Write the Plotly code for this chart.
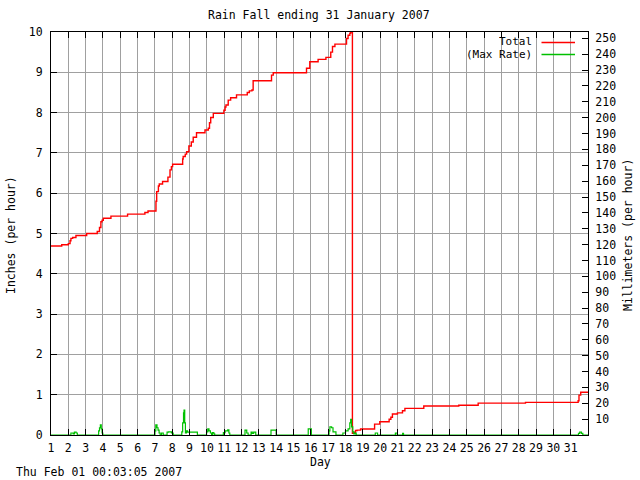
import plotly.graph_objects as go

# ---- data ----
total_day = [1.0, 1.62, 2.0, 2.1, 2.15, 2.25, 2.44, 3.06, 3.67, 3.8, 3.88, 3.95, 4.02, 4.46,
             5.42, 6.42, 6.6, 7.06, 7.1, 7.2, 7.25, 7.44, 7.75, 7.87, 7.95, 8.02, 8.6, 8.63,
             8.75, 8.83, 8.96, 9.1, 9.21, 9.4, 9.89, 10.08, 10.15, 10.22, 10.37, 10.98, 11.05,
             11.1, 11.23, 11.37, 11.71, 12.33, 12.45, 12.6, 12.67, 13.73, 13.83, 15.75, 15.94,
             16.42, 16.87, 17.15, 17.25, 17.39, 18.06, 18.15, 18.25, 18.3, 18.4, 18.46, 18.58,
             18.67, 18.87, 19.68, 19.98, 20.52, 20.62, 20.71, 21.0, 21.29, 21.43, 22.52, 24.54,
             25.66, 28.39, 31.43, 31.48, 31.58, 32.0]
total_in = [4.69, 4.72, 4.75, 4.82, 4.88, 4.9, 4.95, 5.0, 5.05, 5.15, 5.29, 5.33, 5.38, 5.43,
            5.48, 5.52, 5.56, 5.8, 6.04, 6.18, 6.23, 6.29, 6.4, 6.58, 6.66, 6.72, 6.85, 6.91,
            6.97, 7.03, 7.17, 7.27, 7.39, 7.5, 7.57, 7.61, 7.75, 7.88, 7.98, 8.06, 8.14,
            8.19, 8.31, 8.37, 8.44, 8.5, 8.54, 8.56, 8.79, 8.93, 8.99, 9.1, 9.26,
            9.32, 9.37, 9.5, 9.64, 9.7, 9.84, 9.92, 9.97, 10.0, 0.04, 0.07, 0.11,
            0.12, 0.15, 0.27, 0.33, 0.39, 0.44, 0.52, 0.55, 0.6, 0.66, 0.72, 0.74,
            0.79, 0.81, 0.85, 0.99, 1.06, 1.06]

rate_day = [1.0, 2.15, 2.28, 2.35, 2.45, 2.52,
            3.75, 3.8, 3.85, 3.9, 3.95, 3.99,
            7.0, 7.05, 7.12, 7.18, 7.24, 7.3, 7.38, 7.48, 7.7, 7.78, 7.95, 8.05,
            8.55, 8.6, 8.65, 8.68, 8.72, 8.76, 8.82, 8.88, 9.45,
            9.98, 10.05, 10.12, 10.2, 10.27, 10.32, 10.4, 10.45,
            10.95, 11.05, 11.2, 11.27, 11.32,
            12.2, 12.3, 12.38, 12.55, 12.62, 12.7, 12.82,
            13.7, 14.0, 15.85, 16.03,
            17.05, 17.1, 17.2, 17.28, 17.45,
            17.85, 18.0, 18.15, 18.25, 18.3, 18.35, 18.42, 18.48, 18.55, 18.62,
            19.72, 19.85, 20.88, 20.98, 21.3, 21.35,
            31.45, 31.52, 31.62, 31.7, 32.0]
rate_in = [0.0, 0.05, 0.03, 0.07, 0.05, 0.0,
           0.1, 0.18, 0.25, 0.15, 0.05, 0.0,
           0.1, 0.25, 0.18, 0.12, 0.05, 0.0, 0.05, 0.0, 0.07, 0.08, 0.05, 0.0,
           0.08, 0.3, 0.55, 0.62, 0.3, 0.05, 0.1, 0.07, 0.0,
           0.08, 0.15, 0.1, 0.05, 0.0, 0.06, 0.03, 0.0,
           0.06, 0.1, 0.13, 0.05, 0.0,
           0.12, 0.05, 0.0, 0.07, 0.04, 0.07, 0.0,
           0.12, 0.0, 0.15, 0.0,
           0.1, 0.2, 0.18, 0.08, 0.0,
           0.05, 0.1, 0.15, 0.3, 0.39, 0.2, 0.08, 0.03, 0.05, 0.0,
           0.05, 0.0, 0.05, 0.0, 0.04, 0.0,
           0.04, 0.07, 0.04, 0.0, 0.0]

day_ticks = list(range(1, 32))
inch_ticks = list(range(0, 11))
mm_ticks = list(range(10, 251, 10))

title_text = "Rain Fall ending 31 January 2007"
stamp_text = "Thu Feb 01 00:03:05 2007"
legend_labels = ["Total", "(Max Rate)"]

FONT = "DejaVu Sans Mono"
FS = 11.5
RED = "#ff0000"
GREEN = "#00c000"
GRID = "#a0a0a0"

# plot area in pixels (for placing decorations)
PL, PR, PT, PB = 51, 588, 32, 435


def px(xp):
    return (xp - PL) / (PR - PL)


def py(yp):
    return (PB - yp) / (PB - PT)


fig = go.Figure()
fig.add_trace(go.Scatter(x=total_day, y=total_in, mode="lines", line=dict(color=RED, width=1.4, shape="hv"),
                         name=legend_labels[0], showlegend=False, hoverinfo="skip"))
fig.add_trace(go.Scatter(x=rate_day, y=rate_in, mode="lines", line=dict(color=GREEN, width=1.2, shape="hv"),
                         name=legend_labels[1], showlegend=False, hoverinfo="skip"))
# invisible trace so the millimetre axis is attached to data
fig.add_trace(go.Scatter(x=total_day, y=[v * 25.4 for v in total_in], yaxis="y2", mode="lines",
                         line=dict(width=0), opacity=0, showlegend=False, hoverinfo="skip"))

axis_common = dict(showline=True, linecolor="black", linewidth=1, ticks="inside", ticklen=6,
                   tickcolor="black", tickfont=dict(family=FONT, size=FS, color="black"),
                   zeroline=False)

fig.update_layout(
    width=640, height=480,
    margin=dict(l=PL, r=640 - PR, t=PT, b=480 - PB, pad=0),
    paper_bgcolor="white", plot_bgcolor="white",
    font=dict(family=FONT, size=FS, color="black"),
    xaxis=dict(range=[1, 32], tickvals=day_ticks, ticktext=[str(d) for d in day_ticks],
               showgrid=True, gridcolor=GRID, gridwidth=1, mirror="ticks",
               ticklabelstandoff=2, **axis_common),
    yaxis=dict(range=[0, 10], tickvals=inch_ticks, showgrid=True, gridcolor=GRID, gridwidth=1,
               mirror=False, ticklabelstandoff=5, **axis_common),
    yaxis2=dict(range=[0, 254], tickvals=mm_ticks, overlaying="y", side="right", showgrid=False,
                ticklabelstandoff=4, **axis_common),
    showlegend=False,
)

ann = dict(showarrow=False, xref="paper", yref="paper", yanchor="middle")
fig.add_annotation(text=title_text, x=px(319), y=py(15), xanchor="center", font=dict(size=FS), **ann)
fig.add_annotation(text="Day", x=px(320), y=py(462), xanchor="center", font=dict(size=FS), **ann)
fig.add_annotation(text=stamp_text, x=px(14), y=py(472), xanchor="left", font=dict(size=FS), **ann)
fig.add_annotation(text="Inches (per hour)", x=px(11), y=py(235), xanchor="center", textangle=-90,
                   font=dict(size=FS), **ann)
fig.add_annotation(text="Millimeters (per hour)", x=px(628), y=py(235), xanchor="center", textangle=-90,
                   font=dict(size=FS), **ann)

# legend (gnuplot style: text then sample line)
for label, color, ypix in zip(legend_labels, [RED, GREEN], [42.5, 54.5]):
    fig.add_annotation(text=label, x=px(534), y=py(ypix), xanchor="right", height=11.5, valign="middle",
                       font=dict(size=11), **ann)
    fig.add_shape(type="line", xref="paper", yref="paper", x0=px(541.5), x1=px(575),
                  y0=py(ypix), y1=py(ypix), line=dict(color=color, width=1.4))

fig.write_html("out.html", config={"displayModeBar": False},
               post_script="document.body.style.margin='0';document.body.style.overflow='hidden';")
